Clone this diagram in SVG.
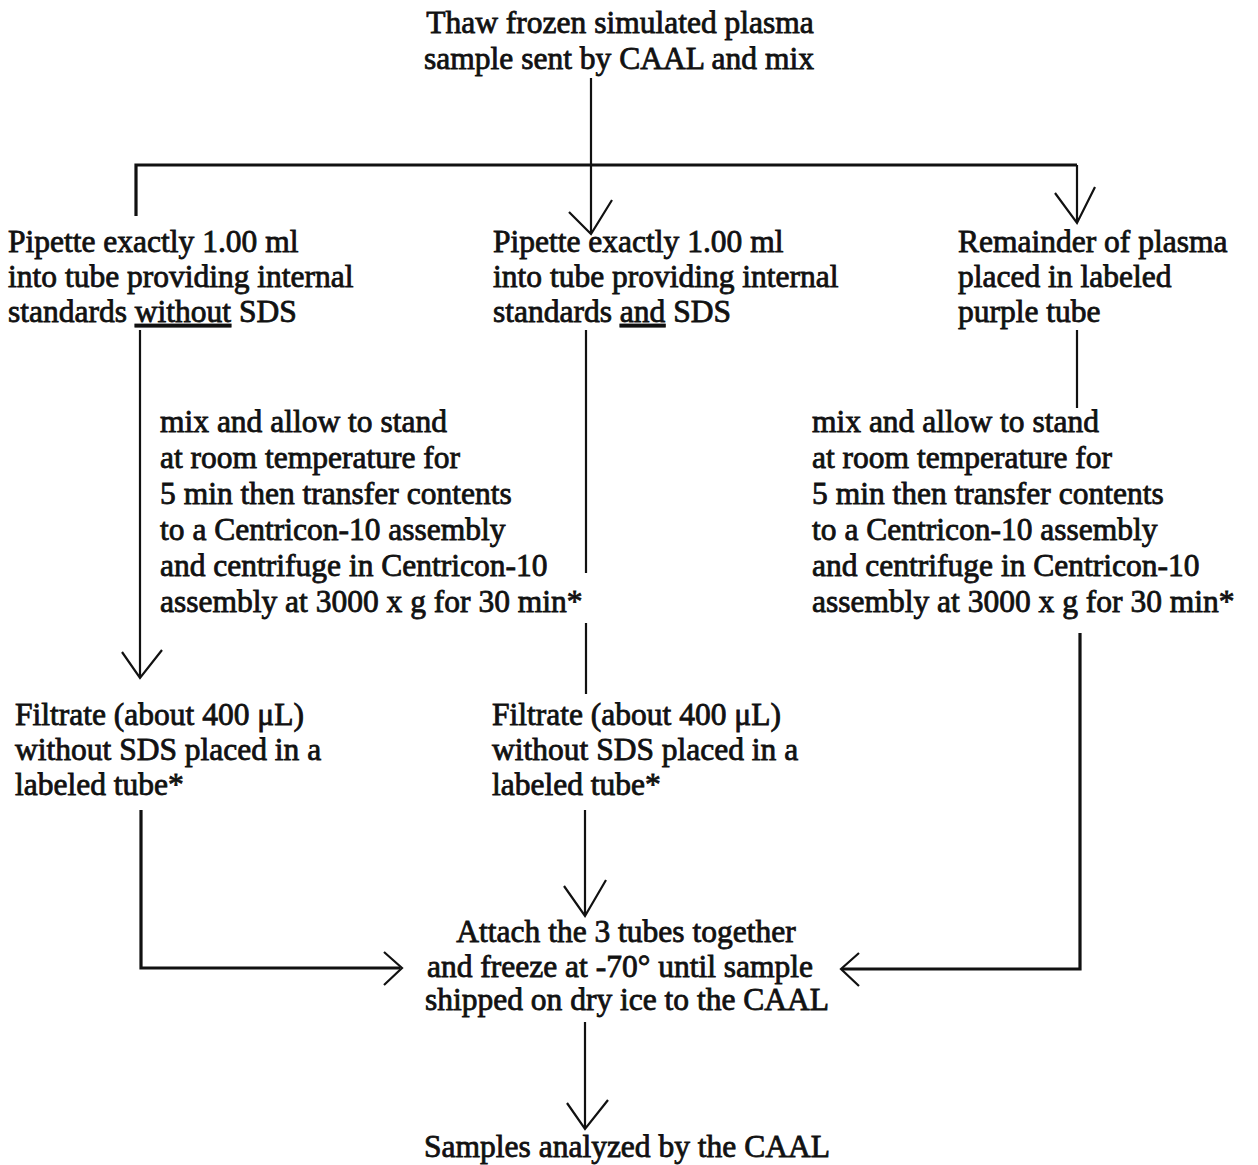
<svg xmlns="http://www.w3.org/2000/svg" width="1258" height="1165" viewBox="0 0 1258 1165">
<style>
text{font-family:"Liberation Serif","Times New Roman",serif;font-size:31.5px;fill:#111;stroke:#111;stroke-width:0.8}
.c{text-anchor:middle}
.u{text-decoration:underline}
.ln{fill:none;stroke:#111;stroke-width:2.2}
.hb{fill:none;stroke:#111;stroke-width:3.2}
</style>
<rect width="1258" height="1165" fill="#fff"/>
<g id="connectors">
<path class="ln" d="M591 78V233M569 212L591 234L612 200"/>
<path class="hb" d="M136 216V165H1077"/>
<path class="ln" d="M1077 165V222M1055 193L1077 223L1095 187"/>
<path class="ln" d="M140 330V677M122 652L140 678L162 650"/>
<path class="ln" d="M586 330V573M586 623V694"/>
<path class="ln" d="M585 810V914M564 886L585 916L606 880"/>
<path class="ln" d="M1077 330V408"/>
<path class="hb" d="M1080 633V969H842"/>
<path class="ln" d="M859 953L841 969L859 986"/>
<path class="hb" d="M141 810V968H400"/>
<path class="ln" d="M384 952L402 968L384 985"/>
<path class="ln" d="M585 1022V1128M567 1103L585 1129L608 1100"/>
</g>
<g id="n-thaw">
<text class="c" x="620" y="33">Thaw frozen simulated plasma</text>
<text class="c" x="619" y="69">sample sent by CAAL and mix</text>
</g>
<g id="n-pipette-without">
<text x="8" y="252">Pipette exactly 1.00 ml</text>
<text x="8" y="287">into tube providing internal</text>
<text x="8" y="322">standards <tspan class="u">without</tspan> SDS</text>
</g>
<g id="n-pipette-and">
<text x="493" y="252">Pipette exactly 1.00 ml</text>
<text x="493" y="287">into tube providing internal</text>
<text x="493" y="322">standards <tspan class="u">and</tspan> SDS</text>
</g>
<g id="n-remainder">
<text x="958" y="252">Remainder of plasma</text>
<text x="958" y="287">placed in labeled</text>
<text x="958" y="322">purple tube</text>
</g>
<g id="n-mix-left">
<text x="160" y="432">mix and allow to stand</text>
<text x="160" y="468">at room temperature for</text>
<text x="160" y="504">5 min then transfer contents</text>
<text x="160" y="540">to a Centricon-10 assembly</text>
<text x="160" y="576">and centrifuge in Centricon-10</text>
<text x="160" y="612">assembly at 3000 x g for 30 min*</text>
</g>
<g id="n-mix-right">
<text x="812" y="432">mix and allow to stand</text>
<text x="812" y="468">at room temperature for</text>
<text x="812" y="504">5 min then transfer contents</text>
<text x="812" y="540">to a Centricon-10 assembly</text>
<text x="812" y="576">and centrifuge in Centricon-10</text>
<text x="812" y="612">assembly at 3000 x g for 30 min*</text>
</g>
<g id="n-filtrate-left">
<text x="15" y="725">Filtrate (about 400 μL)</text>
<text x="15" y="760">without SDS placed in a</text>
<text x="15" y="795">labeled tube*</text>
</g>
<g id="n-filtrate-middle">
<text x="492" y="725">Filtrate (about 400 μL)</text>
<text x="492" y="760">without SDS placed in a</text>
<text x="492" y="795">labeled tube*</text>
</g>
<g id="n-attach">
<text class="c" x="626" y="942">Attach the 3 tubes together</text>
<text class="c" x="620" y="977">and freeze at -70° until sample</text>
<text class="c" x="627" y="1010">shipped on dry ice to the CAAL</text>
</g>
<g id="n-samples">
<text class="c" x="627" y="1157">Samples analyzed by the CAAL</text>
</g>
</svg>
